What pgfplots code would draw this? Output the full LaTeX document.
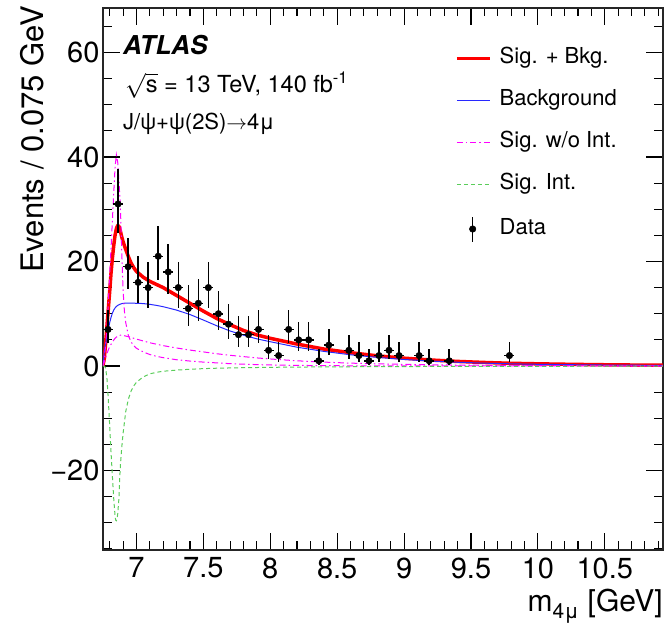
\documentclass[border=0pt]{standalone}
\usepackage{fontspec}
\setmainfont{TeX Gyre Heros}
\usepackage{pgfplots}
\pgfplotsset{compat=1.18}
\usepackage{pgfplotstable}

\definecolor{sigred}{RGB}{255,0,0}
\definecolor{bkgblue}{RGB}{40,40,255}
\definecolor{sigmag}{RGB}{255,0,255}
\definecolor{intgreen}{RGB}{90,205,90}

% data: bin centre, count, half bin width, Poisson errors (up, down)
\pgfplotstableread{
x      y  ex      ep    em
6.7875 7  0.0375  3.77  2.58
6.8625 31 0.0375  6.66  5.52
6.9375 19 0.0375  5.47  4.31
7.0125 16 0.0375  5.10  3.95
7.0875 15 0.0375  4.97  3.82
7.1625 21 0.0375  5.71  4.53
7.2375 18 0.0375  5.35  4.19
7.3125 15 0.0375  4.97  3.82
7.3875 11 0.0375  4.42  3.26
7.4625 12 0.0375  4.57  3.41
7.5375 15 0.0375  4.97  3.82
7.6125 10 0.0375  4.27  3.11
7.6875 8  0.0375  3.95  2.77
7.7625 6  0.0375  3.58  2.38
7.8375 6  0.0375  3.58  2.38
7.9125 7  0.0375  3.77  2.58
7.9875 3  0.0375  2.92  1.63
8.0625 2  0.0375  2.64  1.29
8.1375 7  0.0375  3.77  2.58
8.2125 5  0.0375  3.38  2.16
8.2875 5  0.0375  3.38  2.16
8.3625 1  0.0375  2.30  0.83
8.4375 4  0.0375  3.16  1.91
8.5875 3  0.0375  2.92  1.63
8.6625 2  0.0375  2.64  1.29
8.7375 1  0.0375  2.30  0.83
8.8125 2  0.0375  2.64  1.29
8.8875 3  0.0375  2.92  1.63
8.9625 2  0.0375  2.64  1.29
9.1125 2  0.0375  2.64  1.29
9.1875 1  0.0375  2.30  0.83
9.3375 1  0.0375  2.30  0.83
9.7875 2  0.0375  2.64  1.29
}\datatab

% signal + background
\pgfplotstableread{
x y
6.75 0
6.76 1.5
6.77 4.5
6.78 7.8
6.79 11.0
6.80 14.3
6.81 17.8
6.82 20.6
6.83 23.0
6.84 25.0
6.85 26.3
6.86 26.9
6.87 26.7
6.88 25.8
6.89 24.7
6.90 23.8
6.92 22.3
6.94 20.9
6.96 19.7
6.98 18.8
7.00 18.1
7.05 17.0
7.10 16.2
7.15 15.6
7.20 15.0
7.30 13.5
7.40 12.0
7.50 10.5
7.60 9.1
7.70 7.9
7.80 6.8
7.90 5.95
8.00 5.3
8.20 4.2
8.40 3.25
8.60 2.55
8.80 1.95
9.00 1.5
9.20 1.15
9.40 0.88
9.60 0.68
9.80 0.52
10.00 0.42
10.25 0.32
10.50 0.24
10.75 0.18
10.935 0.15
}\sbtab

% background
\pgfplotstableread{
x y
6.75 0
6.76 2.8
6.77 4.3
6.78 5.8
6.79 7.1
6.80 8.3
6.81 9.3
6.82 10.1
6.83 10.7
6.84 11.1
6.85 11.4
6.86 11.6
6.88 11.85
6.90 12.0
6.95 12.05
7.00 12.0
7.05 11.95
7.10 11.8
7.15 11.6
7.20 11.35
7.30 10.7
7.40 9.85
7.50 8.8
7.60 7.7
7.70 6.7
7.80 5.9
7.90 5.2
8.00 4.65
8.20 3.6
8.40 2.8
8.60 2.15
8.80 1.65
9.00 1.25
9.20 0.95
9.40 0.72
9.60 0.55
9.80 0.42
10.00 0.33
10.25 0.25
10.50 0.19
10.75 0.15
10.935 0.12
}\bkgtab

% signal without interference, narrow component
\pgfplotstableread{
x y
6.75 0
6.76 1.5
6.77 4
6.78 7.5
6.79 12
6.80 17.8
6.81 22.5
6.82 27.8
6.83 33
6.84 38
6.85 40.4
6.86 39
6.87 35
6.88 30.5
6.89 22
6.90 14.5
6.91 10.5
6.92 8.3
6.94 5.8
6.96 4.6
6.98 3.9
7.00 3.4
7.05 2.7
7.10 2.2
7.15 1.85
7.20 1.6
7.30 1.2
7.40 0.95
7.50 0.75
7.60 0.6
7.70 0.45
7.80 0.35
7.90 0.27
8.00 0.2
8.20 0.12
8.40 0.07
8.60 0.04
9.00 0.02
10.935 0
}\narrowtab

% signal without interference, broad component
\pgfplotstableread{
x y
6.75 0
6.76 0.8
6.77 1.6
6.78 2.4
6.79 3.1
6.80 3.7
6.82 4.6
6.84 5.3
6.86 5.75
6.88 5.9
6.90 5.85
6.95 5.55
7.00 5.15
7.10 4.45
7.20 3.9
7.30 3.45
7.40 3.05
7.50 2.7
7.60 2.35
7.70 2.05
7.80 1.8
7.90 1.55
8.00 1.35
8.20 1.0
8.40 0.75
8.60 0.55
8.80 0.42
9.00 0.32
9.20 0.24
9.40 0.18
9.60 0.14
9.80 0.11
10.00 0.08
10.50 0.04
10.935 0.02
}\broadtab

% interference term
\pgfplotstableread{
x y
6.75 0
6.76 0
6.77 -0.4
6.78 -2.5
6.79 -6.5
6.80 -11.5
6.81 -16.5
6.82 -21
6.83 -25.3
6.84 -28.6
6.845 -29.5
6.85 -29.6
6.855 -29.2
6.86 -28.3
6.87 -25
6.875 -21.5
6.88 -19
6.89 -15.6
6.90 -12.9
6.92 -8.7
6.94 -6.3
6.96 -4.8
6.98 -3.8
7.00 -3.1
7.05 -2.1
7.10 -1.5
7.15 -1.2
7.20 -1.0
7.30 -0.78
7.40 -0.62
7.50 -0.5
7.60 -0.42
7.80 -0.32
8.00 -0.25
8.20 -0.2
8.50 -0.15
9.00 -0.1
9.50 -0.07
10.00 -0.05
10.935 -0.03
}\inttab

\begin{document}
\begin{tikzpicture}
\begin{axis}[
  scale only axis, width=560pt, height=542pt,
  xmin=6.75, xmax=10.935, ymin=-35.2, ymax=68.5,
  axis line style={line width=1.2pt, black!85},
  xtick={7,7.5,8,8.5,9,9.5,10,10.5},
  xticklabels={7,7.5,8,8.5,9,9.5,10,10.5},
  minor xtick={6.8,6.9,7.1,7.2,7.3,7.4,7.6,7.7,7.8,7.9,8.1,8.2,8.3,8.4,8.6,8.7,8.8,8.9,9.1,9.2,9.3,9.4,9.6,9.7,9.8,9.9,10.1,10.2,10.3,10.4,10.6,10.7,10.8,10.9},
  ytick={-20,0,20,40,60},
  yticklabels={−20,0,20,40,60},
  minor ytick={-35,-30,-25,-15,-10,-5,5,10,15,25,30,35,45,50,55,65},
  tick align=inside,
  xtick pos=both, ytick pos=both,
  xticklabel pos=lower, yticklabel pos=left,
  major tick length=17pt, minor tick length=8.5pt,
  every tick/.style={black, line width=1.1pt},
  tick label style={font=\fontsize{29}{34}\selectfont},
  xticklabel style={yshift=-4pt},
  legend style={at={(0.6286,0.927)}, anchor=north west, draw=none, fill=none,
    inner sep=0pt, font=\fontsize{22}{26}\selectfont, row sep=21pt, column sep=8pt,
    nodes={inner sep=0pt, text height=16pt, text depth=5pt}},
  legend cell align=left,
  legend image code/.code={\draw[#1] (0pt,0pt) -- (33pt,0pt);},
]
\addplot[sigred, line width=3.5pt, line join=round] table[x=x,y=y] {\sbtab};
\addlegendentry{Sig. + Bkg.}
\addplot[bkgblue, line width=1pt] table[x=x,y=y] {\bkgtab};
\addlegendentry{Background}
\addplot[sigmag, line width=1pt, dash pattern=on 6pt off 3pt on 1.5pt off 3pt] table[x=x,y=y] {\narrowtab};
\addlegendentry{Sig. w/o Int.}
\addplot[forget plot, sigmag, line width=1pt, dash pattern=on 6pt off 3pt on 1.5pt off 3pt] table[x=x,y=y] {\broadtab};
\addplot[intgreen, line width=1pt, dash pattern=on 4pt off 3pt] table[x=x,y=y] {\inttab};
\addlegendentry{Sig. Int.}
\addplot[only marks, mark=*, mark size=3.3pt, black,
  legend image code/.code={\draw[black, line width=1.5pt] (15.7pt,-12.5pt) -- (15.7pt,12.5pt);
    \fill[black] (15.7pt,0pt) circle (3.3pt);},
  error bars/.cd, x dir=both, x explicit, y dir=both, y explicit,
  error bar style={line width=1.5pt, black}, error mark=none]
  table[x=x, y=y, x error=ex, y error plus=ep, y error minus=em] {\datatab};
\addlegendentry{Data}
\end{axis}
\path (-103pt,-74pt) rectangle (562pt,550pt);
\node[anchor=base west, inner sep=0pt, font=\fontsize{26}{30}\selectfont\bfseries\itshape] at (20pt,495pt) {ATLAS};
\node[anchor=base west, inner sep=0pt, font=\fontsize{23.5}{28}\selectfont] at (22pt,457pt) {$\sqrt{\mbox{s}}$ = 13 TeV, 140 fb\textsuperscript{-1}};
\node[anchor=base west, inner sep=0pt, font=\fontsize{22}{26}\selectfont] at (20pt,420pt) {J/ψ+ψ(2S)$\rightarrow$4μ};
\node[rotate=90, anchor=east, inner sep=0pt, font=\fontsize{31}{36}\selectfont] at (-71pt,544pt) {Events / 0.075 GeV};
\node[anchor=base east, inner sep=0pt, font=\fontsize{30}{36}\selectfont] at (560pt,-62pt) {m\textsubscript{4μ} [GeV]};
\end{tikzpicture}
\end{document}
